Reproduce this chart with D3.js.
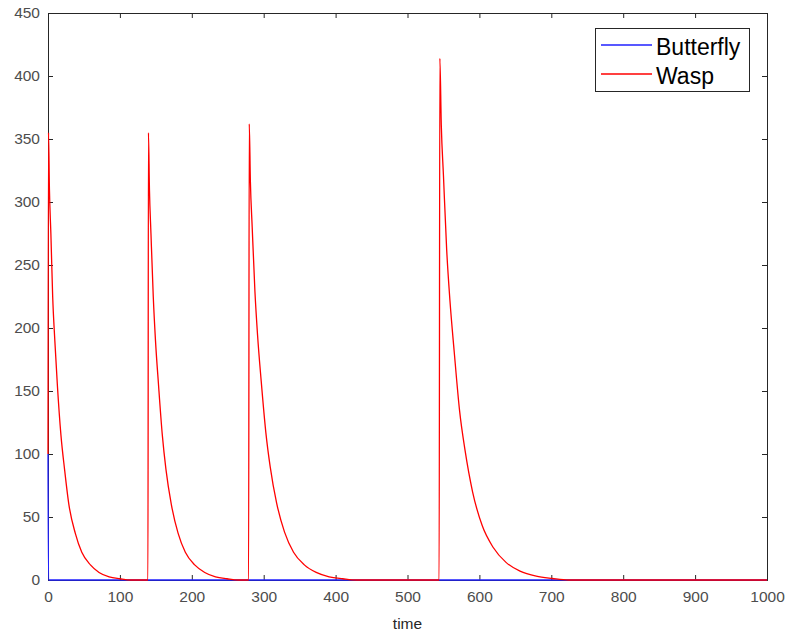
<!DOCTYPE html>
<html>
<head>
<meta charset="utf-8">
<style type="text/css">
body { margin: 0; background: #fff; }
.tick text { font-family: "Liberation Sans", Arial, sans-serif; font-size: 15.5px; fill: #4d4d4d; }
.pathline { fill: none; stroke-width: 1.3; }
#butterfly { stroke: #2020ff; }
#wasp { stroke: #ff0000; }
</style>
<script src="https://d3js.org/d3.v7.min.js"></script>
</head>
<body>
<div id="chart"></div>
<script type="text/javascript">
// values
var butterflyT = [0, 0.7, 1000];
var butterflyV = [100, 0, 0];

var waspT = [0, 0.7, 2, 4, 6.5, 9.5, 13, 18, 23, 29, 38, 47, 59, 71, 85, 100, 115,
	139, 139.7, 141.1, 143.2, 146.4, 149.5, 153.7, 159, 164, 171.5, 181, 191, 204, 218, 233, 249, 265,
	279, 279.9, 281.5, 284, 287.8, 291.5, 296.5, 303, 309, 318, 329, 341.5, 356.5, 373, 391, 410, 429,
	544, 545, 547, 550, 554.5, 559, 565, 572.5, 580, 590.5, 604, 619, 637, 656.5, 679, 701.5, 724, 1000];
var waspV = [100, 355, 310, 275, 225, 190, 155, 115, 88, 60, 37, 22, 12, 6, 2.5, 1, 0,
	0, 355, 310, 275, 225, 190, 155, 115, 88, 60, 37, 22, 12, 6, 2.5, 1, 0,
	0, 362, 316, 280, 229, 194, 158, 117, 90, 61, 38, 22, 12, 6, 2.5, 1, 0,
	0, 414, 361, 321, 262, 222, 181, 134, 103, 70, 43, 26, 14, 7, 3, 1.2, 0, 0];

var xTicks = [0, 100, 200, 300, 400, 500, 600, 700, 800, 900, 1000];
var yTicks = [0, 50, 100, 150, 200, 250, 300, 350, 400, 450];
var seriesNames = ["Butterfly", "Wasp"];

var width = 786, height = 635;
var mLeft = 48, mRight = 767, mTop = 13, mBottom = 580;

var svg = d3.select("#chart").append("svg").attr("width", width).attr("height", height);

var x = d3.scaleLinear().domain([0, 1000]).range([mLeft, mRight]);
var y = d3.scaleLinear().domain([0, 450]).range([mBottom, mTop]);

// axes first so the data lines sit on top, ticks pointing inward like matlab
var ax = "#262626";
var gx = svg.append("g").attr("transform", "translate(0," + mBottom + ")")
	.call(d3.axisBottom(x).tickValues(xTicks).tickSize(-5).tickPadding(11).tickFormat(d3.format("d")));
var gx2 = svg.append("g").attr("transform", "translate(0," + mTop + ")")
	.call(d3.axisTop(x).tickValues(xTicks).tickSize(-5).tickFormat(""));
var gy = svg.append("g").attr("transform", "translate(" + mLeft + ",0)")
	.call(d3.axisLeft(y).tickValues(yTicks).tickSize(-5).tickPadding(8));
var gy2 = svg.append("g").attr("transform", "translate(" + mRight + ",0)")
	.call(d3.axisRight(y).tickValues(yTicks).tickSize(-5).tickFormat(""));
[gx, gx2, gy, gy2].forEach(function(g) {
	g.select(".domain").attr("stroke", ax).attr("stroke-width", 1);
	g.selectAll(".tick line").attr("stroke", ax);
});

function pairs(t, v) { return t.map(function(d, i) { return [d, v[i]]; }); }

var line = d3.line().curve(d3.curveMonotoneX)
	.x(function(d) { return x(d[0]); }).y(function(d) { return y(d[1]); });

svg.append("path").datum(pairs(butterflyT, butterflyV))
	.attr("class", "pathline").attr("id", "butterfly").attr("d", line);
svg.append("path").datum(pairs(waspT, waspV))
	.attr("class", "pathline").attr("id", "wasp").attr("d", line);

svg.append("text").attr("x", (mLeft + mRight) / 2).attr("y", 629)
	.attr("text-anchor", "middle")
	.style("font-family", "Liberation Sans, Arial, sans-serif").style("font-size", "15.5px")
	.style("fill", "#262626").text("time");

// legend
var lg = svg.append("g");
lg.append("rect").attr("x", 595.5).attr("y", 28.5).attr("width", 154).attr("height", 63)
	.attr("fill", "#fff").attr("stroke", ax);
var colors = ["#2020ff", "#ff0000"];
seriesNames.forEach(function(n, i) {
	var yy = 45 + i * 29;
	lg.append("line").attr("x1", 601).attr("x2", 652).attr("y1", yy).attr("y2", yy)
		.attr("stroke", colors[i]).attr("stroke-width", 1.3);
	lg.append("text").attr("x", 656).attr("y", yy + 1.5).attr("dy", "0.36em")
		.style("font-family", "Liberation Sans, Arial, sans-serif").style("font-size", "23px")
		.style("fill", "#000").text(n);
});
</script>
</body>
</html>
